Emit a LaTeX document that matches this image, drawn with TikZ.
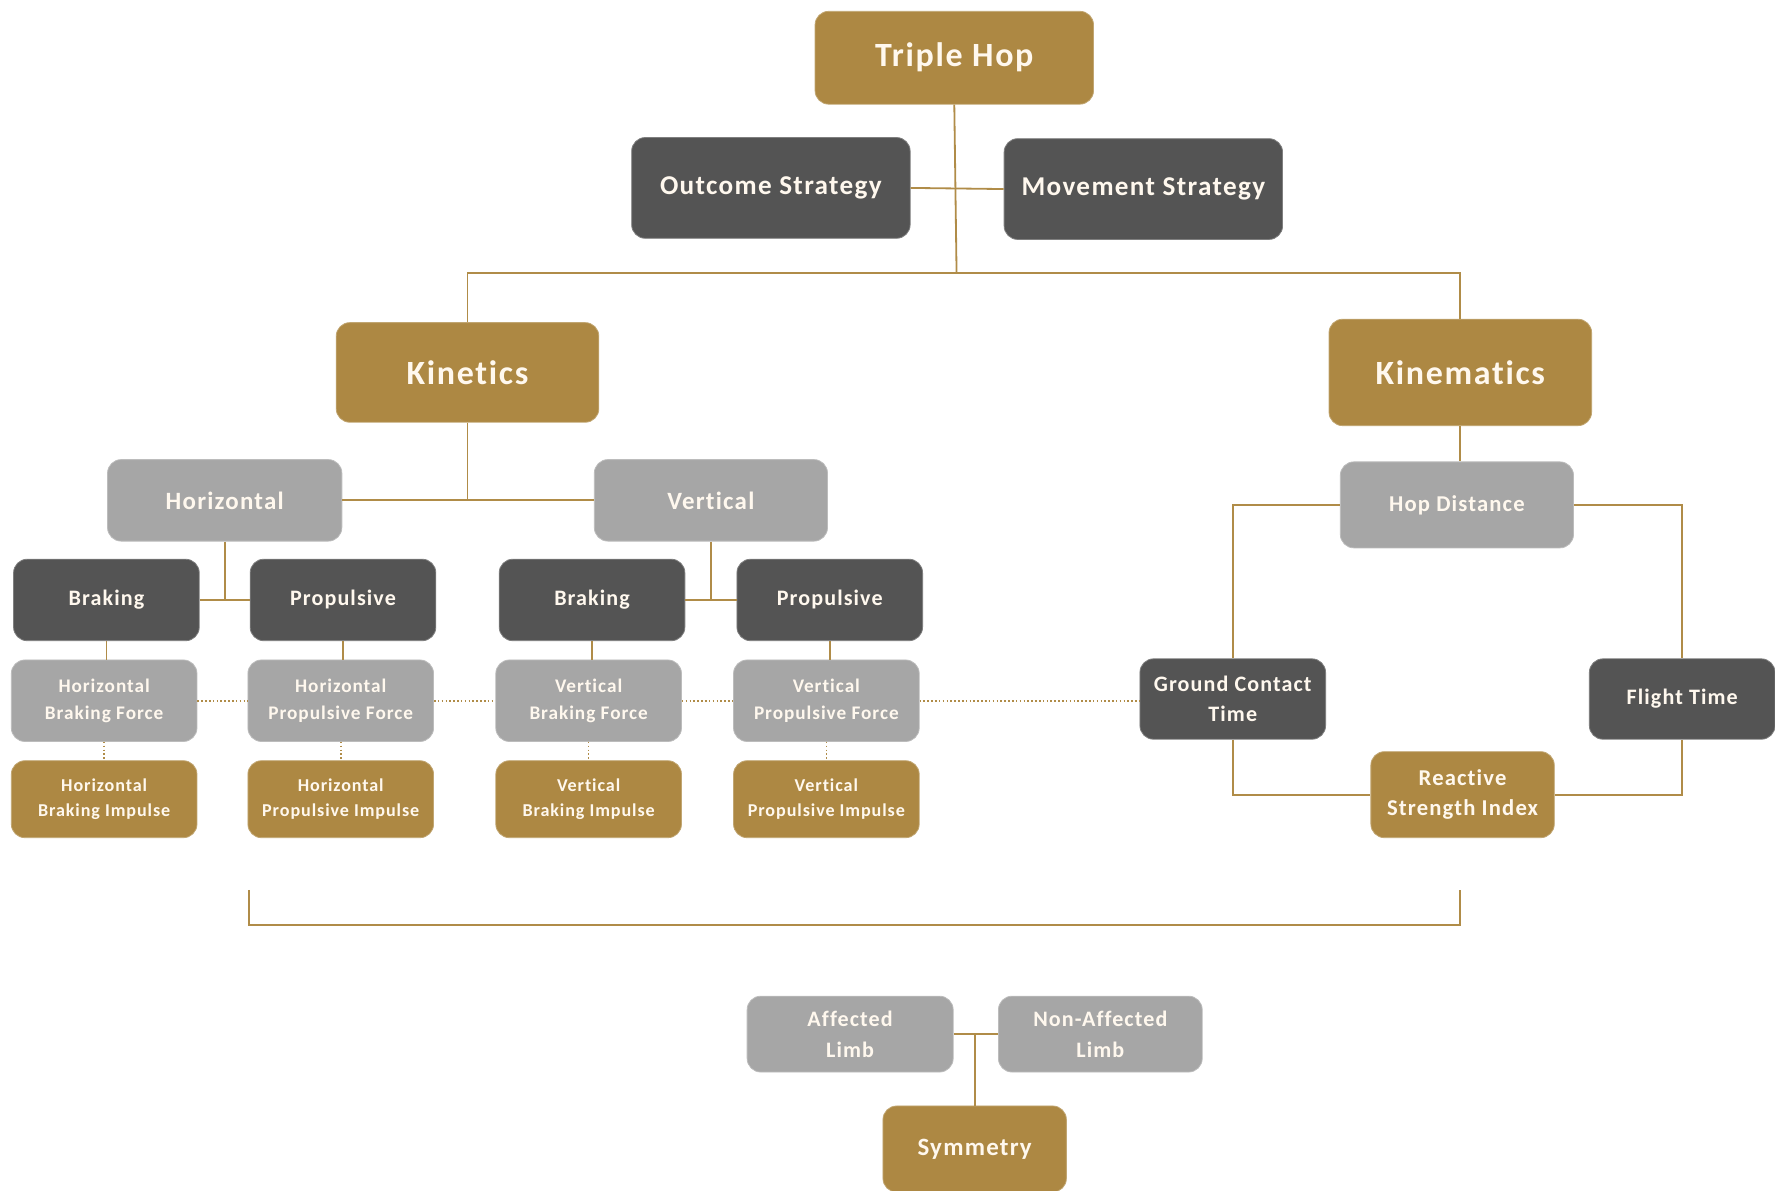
\documentclass[tikz,border=0pt]{standalone}
\usepackage{fontspec}
\setmainfont{Carlito}[LetterSpace=5, Ligatures=NoCommon]
\definecolor{gold}{HTML}{AD8843}
\definecolor{dk}{HTML}{545454}
\definecolor{lt}{HTML}{A6A6A6}
\definecolor{txt}{HTML}{FFF8EE}
\definecolor{ln}{HTML}{B08C48}
\newcommand\fsz[2]{\bfseries\fontsize{#1}{#2}\selectfont}
\tikzset{
  base/.style={rounded corners=12pt, align=center, text=txt, inner sep=0pt, line width=0.7pt},
  goldbox/.style={base, fill=gold, draw=gold!75!white},
  darkbox/.style={base, fill=dk, draw=dk!75!white},
  litebox/.style={base, fill=lt, draw=lt!75!white},
  wh/.style 2 args={minimum width=#1pt, minimum height=#2pt},
  conn/.style={draw=ln, line width=1.6pt},
  dots/.style={draw=ln, line width=1.4pt, dotted}
}
\begin{document}
\begin{tikzpicture}[x=1pt, y=-1pt]
\useasboundingbox (0,0) rectangle (1568,1052);

% top level
\node[goldbox, wh={246}{82}, font=\fsz{30}{36}] (th) at (843,51) {Triple Hop};
\node[darkbox, wh={246}{89}, font=\fsz{24}{29}] (out) at (681,166) {Outcome Strategy};
\node[darkbox, wh={246}{89}, font=\fsz{24}{29}] (mov) at (1010,167) {Movement Strategy};
\coordinate (j1) at (845,241);

% kinetics branch
\node[goldbox, wh={232}{88}, font=\fsz{30}{36}] (kin) at (413,329) {Kinetics};
\node[goldbox, wh={232}{94}, font=\fsz{30}{36}] (kmt) at (1290,329) {Kinematics};

\node[litebox, wh={207}{72}, font=\fsz{22}{26}] (hor) at (198.5,442) {Horizontal};
\node[litebox, wh={206}{72}, font=\fsz{22}{26}] (ver) at (628,442) {Vertical};

\node[darkbox, wh={164}{72}, font=\fsz{19.5}{24}] (hb) at (94,530) {Braking};
\node[darkbox, wh={164}{72}, font=\fsz{19.5}{24}] (hp) at (303,530) {Propulsive};
\node[darkbox, wh={164}{72}, font=\fsz{19.5}{24}] (vb) at (523,530) {Braking};
\node[darkbox, wh={164}{72}, font=\fsz{19.5}{24}] (vp) at (733,530) {Propulsive};

\node[litebox, wh={164}{72}, font=\fsz{17}{24}] (hbf) at (92,619) {Horizontal\\Braking Force};
\node[litebox, wh={164}{72}, font=\fsz{17}{24}] (hpf) at (301,619) {Horizontal\\Propulsive Force};
\node[litebox, wh={164}{72}, font=\fsz{17}{24}] (vbf) at (520,619) {Vertical\\Braking Force};
\node[litebox, wh={164}{72}, font=\fsz{17}{24}] (vpf) at (730,619) {Vertical\\Propulsive Force};

\node[goldbox, wh={164}{68}, font=\fsz{16}{22}] (hbi) at (92,706) {Horizontal\\Braking Impulse};
\node[goldbox, wh={164}{68}, font=\fsz{16}{22}] (hpi) at (301,706) {Horizontal\\Propulsive Impulse};
\node[goldbox, wh={164}{68}, font=\fsz{16}{22}] (vbi) at (520,706) {Vertical\\Braking Impulse};
\node[goldbox, wh={164}{68}, font=\fsz{16}{22}] (vpi) at (730,706) {Vertical\\Propulsive Impulse};

% kinematics branch
\node[litebox, wh={206}{76}, font=\fsz{20}{26}] (hop) at (1287,446) {Hop Distance};
\node[darkbox, wh={164}{71}, font=\fsz{19.5}{26}] (gct) at (1089,617.5) {Ground Contact\\Time};
\node[darkbox, wh={164}{71}, font=\fsz{19.5}{26}] (ft) at (1486,617.5) {Flight Time};
\node[goldbox, wh={162}{76}, font=\fsz{20}{27}] (rsi) at (1292,702) {Reactive\\Strength Index};

% symmetry
\node[litebox, wh={182}{67}, font=\fsz{19.5}{27}] (aff) at (751,913.5) {Affected\\Limb};
\node[litebox, wh={180}{67}, font=\fsz{19.5}{27}] (non) at (972,913.5) {Non-Affected\\Limb};
\node[goldbox, wh={162}{76}, font=\fsz{22}{27}] (sym) at (861,1015) {Symmetry};
\coordinate (b1) at (220,786);
\coordinate (b2) at (1290,786);

% connectors
\draw[conn] (th.south) -- (j1);
\draw[conn] (out.east) -- (mov.west);
\draw[conn] (kin.north) |- (j1) -| (kmt.north);
\draw[conn] (kin.south) -- (kin.south |- hor.east);
\draw[conn] (hor.east) -- (ver.west);
\draw[conn] (hor.south) -- (hor.south |- hb.east);
\draw[conn] (hb.east) -- (hp.west);
\draw[conn] (ver.south) -- (ver.south |- vb.east);
\draw[conn] (vb.east) -- (vp.west);
\draw[conn] (hb.south) -- (hb.south |- hbf.north);
\draw[conn] (hp.south) -- (hp.south |- hpf.north);
\draw[conn] (vb.south) -- (vb.south |- vbf.north);
\draw[conn] (vp.south) -- (vp.south |- vpf.north);

\draw[dots] (hbf.east) -- (hpf.west);
\draw[dots] (hpf.east) -- (vbf.west);
\draw[dots] (vbf.east) -- (vpf.west);
\draw[dots] (vpf.east) -- (vpf.east -| gct.west);
\draw[dots] (hbf.south) -- (hbi.north);
\draw[dots] (hpf.south) -- (hpi.north);
\draw[dots] (vbf.south) -- (vbi.north);
\draw[dots] (vpf.south) -- (vpi.north);

\draw[conn] (kmt.south) -- (kmt.south |- hop.north);
\draw[conn] (hop.west) -| (gct.north);
\draw[conn] (hop.east) -| (ft.north);
\draw[conn] (gct.south) |- (rsi.west);
\draw[conn] (ft.south) |- (rsi.east);

\draw[conn] (b1) -- ++(0,31) -| (b2);

\draw[conn] (aff.east) -- (non.west);
\draw[conn] (sym.north) -- (sym.north |- aff.east);
\end{tikzpicture}
\end{document}
